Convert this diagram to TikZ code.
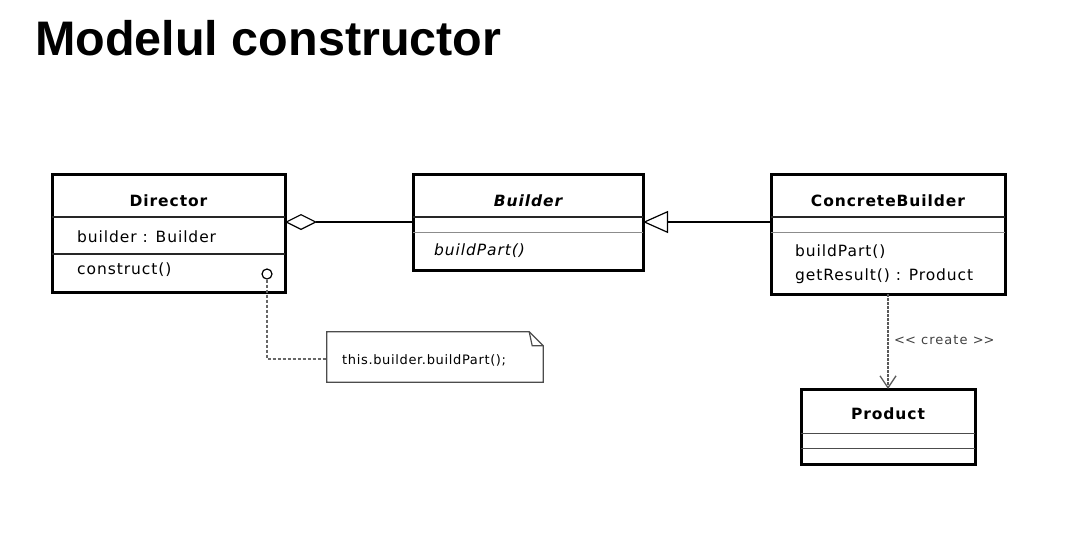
\documentclass[tikz,border=0pt]{standalone}
\usepackage{fontspec}
\setmainfont{DejaVu Sans}
\newfontfamily\titlefont{Liberation Sans}
\newfontfamily\umlfont[LetterSpace=6]{DejaVu Sans}
\newfontfamily\notefont[LetterSpace=5]{DejaVu Sans}
\newfontfamily\labelfont[LetterSpace=8]{DejaVu Sans}
\usetikzlibrary{arrows.meta}
\tikzset{
  umlbox/.style={draw, line width=3pt, inner sep=0pt, outer sep=0pt},
  divline/.style={line width=1.1pt, draw=black!85},
  thinline/.style={line width=0.8pt, draw=black!45},
  cname/.style={font=\umlfont\fontsize{15.5}{18}\selectfont\bfseries, inner sep=0pt},
  member/.style={font=\umlfont\fontsize{15.5}{18}\selectfont, anchor=west, inner sep=0pt},
  notetext/.style={font=\notefont\fontsize{13}{15}\selectfont, inner sep=0pt},
  labeltext/.style={font=\labelfont\fontsize{13}{15}\selectfont, inner sep=0pt},
  conn/.style={line width=1.2pt},
}
\begin{document}
\begin{tikzpicture}[x=1pt,y=-1pt]
\useasboundingbox (0,0) rectangle (1075,533);
% title
\node[anchor=base west, inner sep=0pt, font=\titlefont\fontsize{48.5}{56}\selectfont\bfseries] (title) at (35,55) {Modelul constructor};

% Director
\node[umlbox, minimum width=233pt, minimum height=118pt] (director) at (168.5,233) {};
\draw[divline] (52,217) -- (285,217);
\draw[divline] (52,254) -- (285,254);
\node[cname] (dname) at (168.5,201) {Director};
\node[member] (dattr) at (77,237) {builder : Builder};
\node[member] (dop) at (77,270) {construct()};
\node[circle, draw, line width=1.2pt, minimum size=10pt, inner sep=0pt] (cir) at (267,274) {};

% Builder
\node[umlbox, minimum width=230pt, minimum height=96pt] (builder) at (528,222) {};
\draw[divline] (413,217) -- (643,217);
\draw[thinline] (413,232) -- (643,232);
\node[cname, font=\umlfont\fontsize{15.5}{18}\selectfont\bfseries\itshape] (bname) at (528,201) {Builder};
\node[member, font=\umlfont\fontsize{15.5}{18}\selectfont\itshape] (bop) at (434,251) {buildPart()};

% ConcreteBuilder
\node[umlbox, minimum width=234pt, minimum height=120pt] (cb) at (888,234) {};
\draw[divline] (771,217) -- (1005,217);
\draw[thinline] (771,232) -- (1005,232);
\node[cname] (cbname) at (888,201) {ConcreteBuilder};
\node[member] (cbop1) at (795,252) {buildPart()};
\node[member] (cbop2) at (795,276) {getResult() : Product};

% Product
\node[umlbox, minimum width=174pt, minimum height=75pt] (product) at (888,426.5) {};
\draw[thinline, draw=black!70] (801,433) -- (975,433);
\draw[thinline, draw=black!70] (801,448) -- (975,448);
\node[cname] (pname) at (888,414) {Product};

% Note
\node[minimum width=216pt, minimum height=50pt, inner sep=0pt] (note) at (435,357) {};
\draw[line width=1.2pt, draw=black!70] (note.south west) -- (note.north west) -- ([xshift=-14pt]note.north east) -- ([yshift=-14pt]note.north east) -- (note.south east) -- cycle;
\draw[line width=1.2pt, draw=black!70] ([xshift=-14pt]note.north east) -- ([xshift=-11pt,yshift=-14pt]note.north east) -- ([yshift=-14pt]note.north east);
\node[notetext, anchor=west] (ntext) at (342,360) {this.builder.buildPart();};

% connectors
\draw[conn, -{Diamond[open, length=32pt, width=16pt, line width=1.2pt]}] (builder.west) -- (builder.west -| director.east);
\draw[conn, -{Triangle[open, length=25pt, width=22pt, line width=1.2pt]}] (cb.west |- builder.west) -- (builder.east);
\draw[line width=1.1pt, draw=black!60, dash pattern=on 3pt off 2pt] (cir.south) |- ([yshift=-2pt]note.west);
\draw[line width=1.3pt, draw=black!65, dash pattern=on 2.5pt off 1.5pt, -{Straight Barb[length=12pt, width=16pt, line width=1.3pt]}] (cb.south) -- (product.north);
\node[labeltext, anchor=west, text=black!75] (clabel) at (894,340) {<\kern0pt< create >\kern0pt>};
\end{tikzpicture}
\end{document}
